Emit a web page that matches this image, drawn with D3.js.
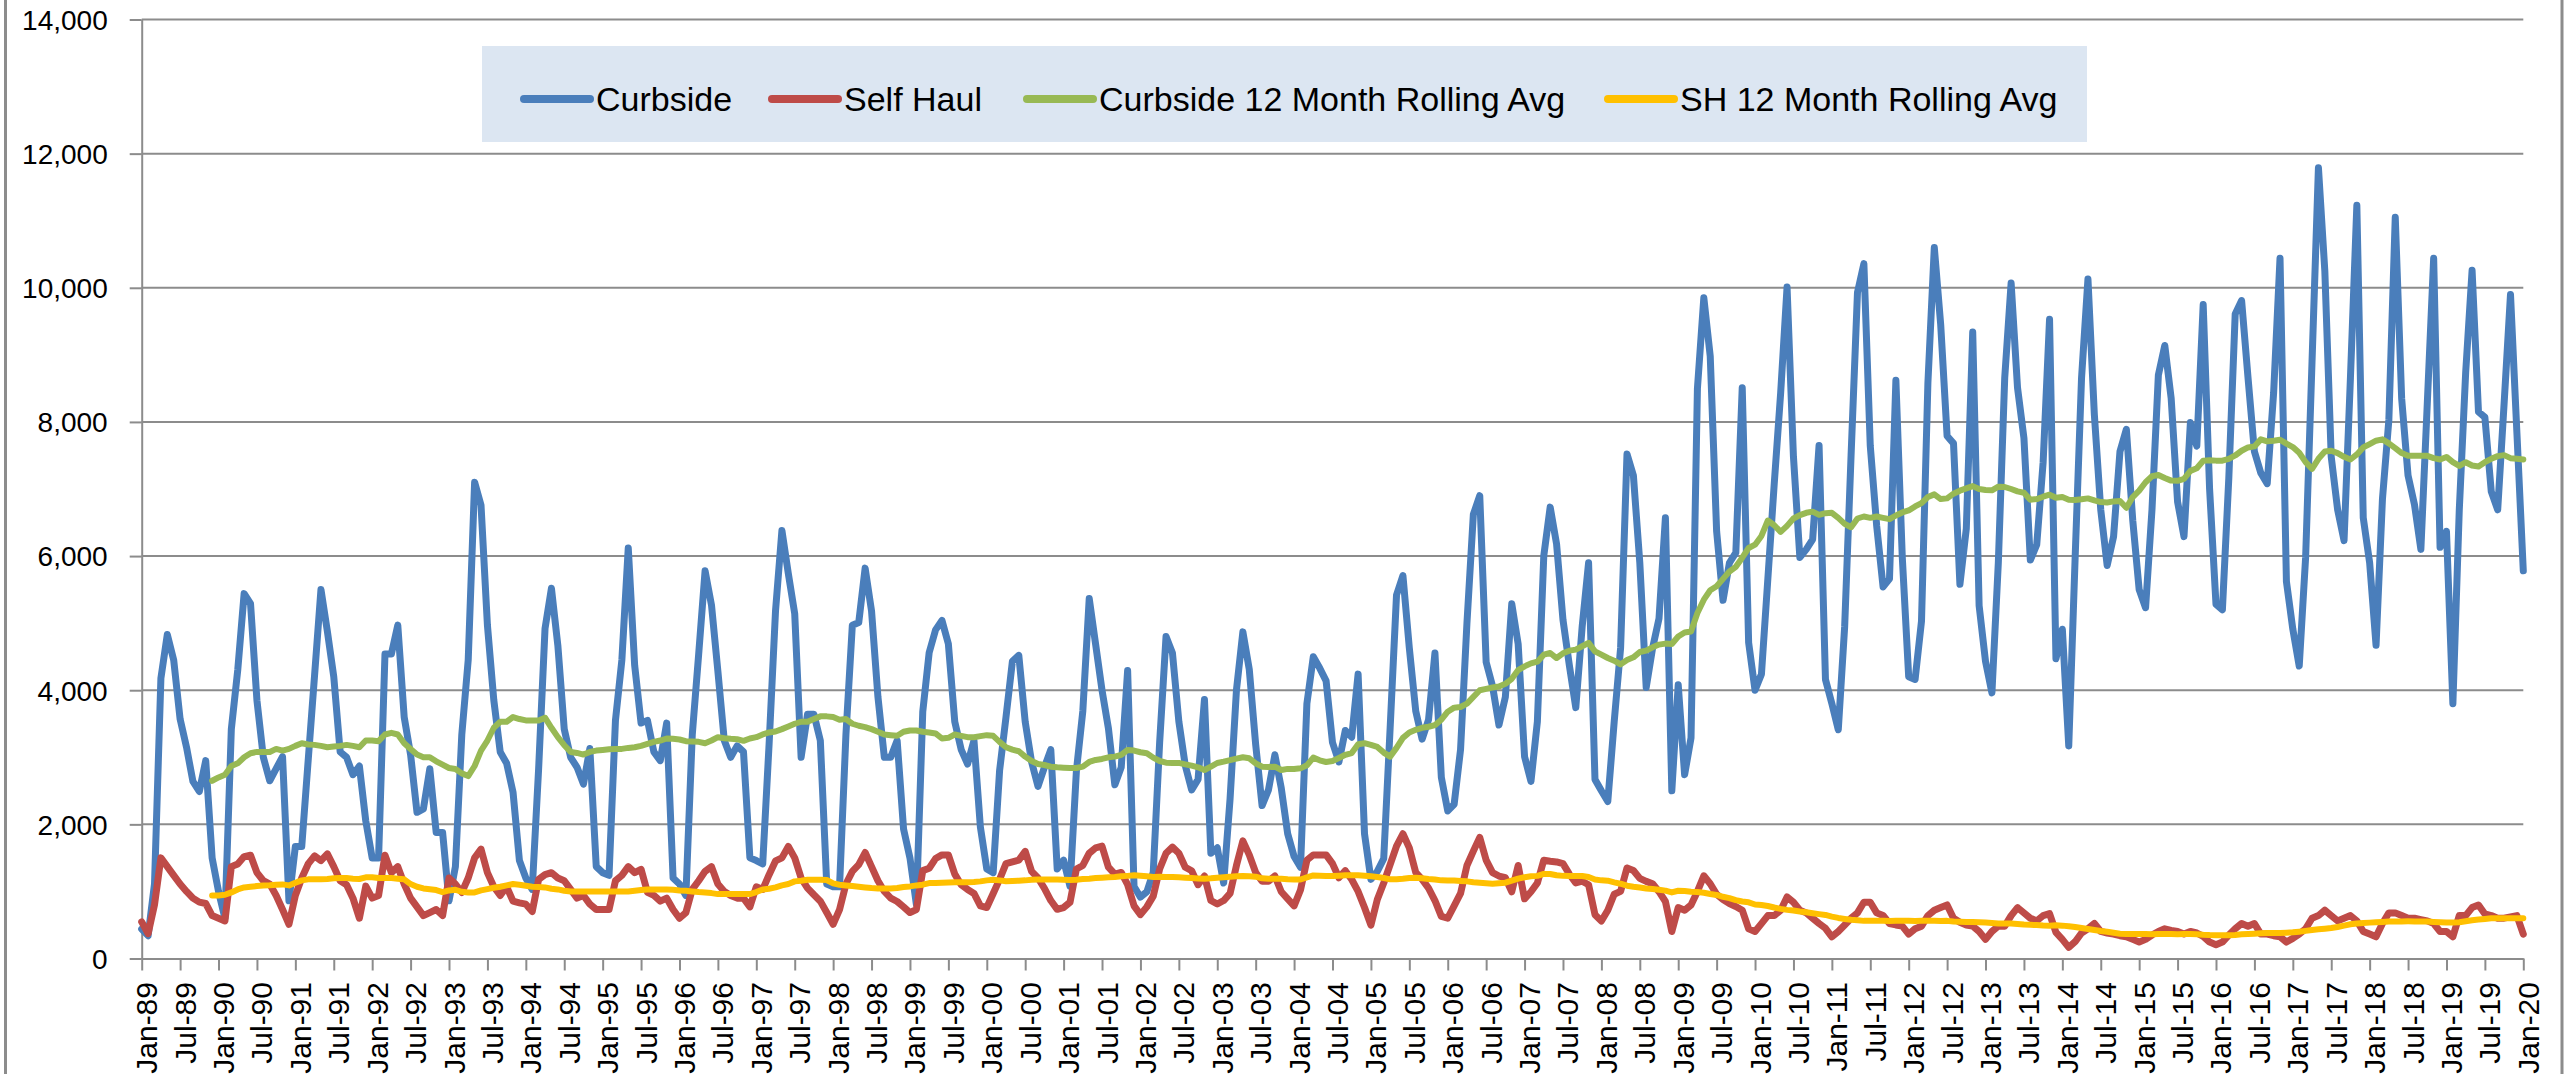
<!DOCTYPE html>
<html>
<head>
<meta charset="utf-8">
<script src="https://d3js.org/d3.v7.min.js"></script>
<style>
  html, body { margin: 0; padding: 0; background: #ffffff; }
  svg { display: block; }
  text { font-family: "Liberation Sans", Arial, sans-serif; fill: #000; }
</style>
</head>
<body>
<svg id="chart" width="2575" height="1074"></svg>
<script>
// ---------------- DATA ----------------
const tickLabels = ["Jan-89","Jul-89","Jan-90","Jul-90","Jan-91","Jul-91","Jan-92","Jul-92","Jan-93","Jul-93",
  "Jan-94","Jul-94","Jan-95","Jul-95","Jan-96","Jul-96","Jan-97","Jul-97","Jan-98","Jul-98","Jan-99","Jul-99",
  "Jan-00","Jul-00","Jan-01","Jul-01","Jan-02","Jul-02","Jan-03","Jul-03","Jan-04","Jul-04","Jan-05","Jul-05",
  "Jan-06","Jul-06","Jan-07","Jul-07","Jan-08","Jul-08","Jan-09","Jul-09","Jan-10","Jul-10","Jan-11","Jul-11",
  "Jan-12","Jul-12","Jan-13","Jul-13","Jan-14","Jul-14","Jan-15","Jul-15","Jan-16","Jul-16","Jan-17","Jul-17",
  "Jan-18","Jul-18","Jan-19","Jul-19","Jan-20"];
const yTicks = [0, 2000, 4000, 6000, 8000, 10000, 12000, 14000];
const seriesNames = ["Curbside", "Self Haul", "Curbside 12 Month Rolling Avg", "SH 12 Month Rolling Avg"];

// monthly values, Jan-89 .. Jan-20 (one row per year)
const curbside = [
  440,340,1110,4180,4830,4450,3570,3150,2640,2490,2950,1500,
  1000,600,3420,4300,5440,5290,3850,3000,2650,2830,3010,860,
  1670,1670,2950,4220,5500,4880,4200,3080,3000,2740,2870,2050,
  1500,1500,4540,4540,4970,3600,3040,2180,2230,2830,1880,1880,
  860,1370,3340,4450,7100,6760,4970,3850,3080,2910,2480,1460,
  1200,1030,2830,4920,5520,4670,3420,3000,2850,2600,3130,1370,
  1280,1240,3550,4450,6120,4370,3510,3550,3080,2950,3510,1200,
  1110,940,3340,4540,5780,5270,4280,3250,3000,3170,3080,1500,
  1460,1410,3200,5180,6380,5740,5140,3000,3640,3640,3250,1110,
  1070,1070,3340,4970,5010,5820,5180,3900,3000,3000,3250,1930,
  1500,810,3680,4560,4900,5040,4690,3530,3115,2900,3250,1960,
  1335,1280,2800,3600,4430,4520,3530,2930,2565,2850,3115,1335,
  1466,1073,2800,3690,5366,4686,4000,3430,2590,2850,4293,1073,
  916,995,1283,3220,4800,4555,3534,2880,2513,2670,3860,1570,
  1650,1125,2380,4005,4870,4310,3190,2280,2513,3037,2540,1860,
  1520,1360,3800,4500,4330,4140,3220,2930,3400,3300,4240,1860,
  1180,1300,1490,3430,5420,5710,4630,3690,3270,3560,4555,2700,
  2200,2300,3115,5000,6620,6900,4420,4060,3480,3900,5290,4690,
  3010,2640,3530,6000,6730,6180,5050,4370,3740,4950,5900,2670,
  2500,2340,3530,4630,7520,7200,5900,4040,4630,5070,6570,2500,
  4080,2740,3290,8500,9850,8980,6370,5340,5900,6050,8510,4710,
  4000,4240,5660,7080,8430,10010,7480,5980,6100,6250,7650,4160,
  3800,3410,4950,7500,9930,10360,7640,6450,5540,5660,8620,5980,
  4200,4160,5030,8580,10600,9450,7790,7680,5580,6410,9340,5260,
  4430,3960,5900,8660,10070,8510,7760,5940,6170,7400,9530,4470,
  4910,3170,5980,8660,10130,8110,6690,5860,6290,7560,7890,6530,
  5500,5230,6690,8700,9140,8350,6810,6290,7990,7640,9750,7000,
  5280,5200,7160,9610,9810,8660,7560,7240,7080,8430,10440,5620,
  4910,4360,5980,8900,11790,10250,7480,6690,6230,8660,11230,6570,
  5900,4670,6850,8030,11050,8350,7200,6770,6100,8270,10440,6130,
  6370,3800,6690,8740,10260,8150,8070,6960,6690,8270,9900,7840,
  5780
];

const selfHaul = [
  545,370,800,1500,1370,1240,1110,1000,900,840,820,640,
  600,560,1370,1410,1520,1540,1280,1160,1110,940,730,510,
  940,1200,1410,1530,1460,1560,1370,1160,1100,900,600,1080,
  900,940,1540,1280,1370,1110,900,770,640,685,730,640,
  1200,1110,985,1200,1500,1630,1280,1070,940,1070,855,830,
  810,700,1180,1250,1280,1200,1160,1030,900,940,810,730,
  730,730,1160,1240,1370,1280,1330,985,940,855,900,730,
  600,685,1030,1160,1300,1370,1110,1000,940,900,900,770,
  1070,1030,1250,1455,1500,1670,1500,1200,1050,950,855,685,
  510,730,1110,1300,1400,1580,1370,1160,1000,900,850,770,
  685,730,1310,1345,1490,1545,1545,1257,1100,1030,970,785,
  760,970,1180,1414,1440,1466,1597,1300,1200,1047,864,733,
  760,838,1335,1387,1570,1650,1675,1361,1257,1283,1100,785,
  654,770,930,1335,1570,1660,1570,1361,1309,1100,1230,864,
  812,864,970,1387,1754,1545,1283,1152,1152,1230,995,890,
  785,1021,1466,1545,1545,1545,1414,1204,1309,1178,1000,760,
  497,880,1126,1400,1675,1860,1650,1283,1180,1050,864,628,
  602,785,970,1387,1600,1806,1466,1280,1230,1204,995,1387,
  890,995,1126,1466,1450,1440,1414,1257,1126,1152,1100,654,
  560,720,957,1000,1350,1312,1194,1150,1115,996,850,403,
  759,720,798,1000,1233,1115,957,880,820,775,720,443,
  403,520,640,640,720,917,838,720,680,600,522,450,
  324,403,500,600,680,838,838,680,640,522,500,482,
  364,443,482,640,720,760,798,601,540,500,482,403,
  285,403,482,482,640,759,680,601,561,640,670,390,
  285,166,250,380,443,522,403,380,364,340,324,285,
  245,285,350,403,443,420,403,364,403,380,330,245,
  206,245,350,443,522,482,522,364,364,340,324,245,
  300,364,443,601,640,720,640,561,601,640,561,403,
  364,324,522,680,680,640,601,601,580,561,522,403,
  403,324,640,640,759,798,664,640,601,601,620,640,
  364
];

// 12-month rolling averages, Dec-89 .. Jan-20
const avgStartIndex = 11;
const curbsideAvg = [
  2650,2700,2740,2870,2910,3000,3060,3080,3080,3080,3125,3100,3125,
  3170,3210,3190,3185,3170,3150,3160,3170,3185,3170,3150,3250,
  3250,3240,3340,3365,3340,3210,3125,3040,3000,3000,2940,2890,
  2840,2825,2760,2720,2870,3100,3250,3440,3530,3530,3600,3570,
  3550,3550,3550,3590,3440,3300,3180,3080,3065,3040,3080,3100,
  3110,3120,3125,3125,3140,3150,3170,3200,3230,3250,3280,3275,
  3265,3240,3235,3230,3210,3250,3300,3285,3275,3270,3245,3280,
  3300,3340,3370,3385,3420,3460,3500,3530,3530,3570,3610,3610,
  3600,3560,3570,3500,3470,3450,3420,3380,3340,3330,3320,3380,
  3400,3400,3380,3370,3355,3280,3290,3340,3320,3300,3300,3315,
  3330,3320,3230,3150,3115,3090,3010,2945,2900,2885,2860,2850,
  2845,2840,2840,2860,2930,2960,2975,3000,3010,3035,3110,3100,
  3075,3060,2995,2945,2920,2916,2916,2895,2875,2850,2810,2860,
  2915,2935,2958,2980,3000,2985,2910,2860,2855,2860,2810,2827,
  2827,2835,2880,2995,2955,2930,2945,2990,3037,3063,3194,3210,
  3185,3155,3070,3010,3140,3290,3370,3410,3440,3455,3480,3560,
  3680,3740,3750,3800,3900,4000,4020,4040,4055,4095,4170,4300,
  4355,4400,4425,4530,4555,4480,4550,4590,4605,4655,4705,4580,
  4530,4480,4440,4385,4450,4490,4570,4590,4640,4680,4695,4690,
  4800,4860,4875,5150,5350,5490,5550,5660,5770,5840,5976,6120,
  6170,6300,6530,6460,6360,6450,6560,6610,6645,6662,6615,6640,
  6645,6570,6480,6430,6560,6590,6570,6590,6570,6550,6605,6650,
  6680,6740,6790,6880,6920,6850,6860,6930,6975,7010,7043,7000,
  6985,6980,7035,7030,7000,6965,6945,6840,6850,6885,6915,6870,
  6880,6840,6835,6846,6860,6830,6805,6800,6815,6822,6720,6880,
  6975,7100,7190,7210,7165,7125,7122,7150,7270,7310,7420,7430,
  7423,7423,7450,7500,7570,7620,7635,7740,7710,7720,7735,7676,
  7625,7540,7400,7300,7450,7560,7570,7535,7480,7440,7515,7620,
  7670,7720,7740,7680,7610,7535,7494,7494,7494,7494,7460,7440,
  7478,7400,7345,7399,7350,7336,7400,7450,7490,7505,7460,7450,
  7440
];

const shAvg = [
  940,940,950,985,1030,1060,1070,1080,1090,1092,1100,1105,1090,
  1130,1165,1180,1180,1180,1185,1195,1200,1200,1190,1185,1210,
  1210,1200,1200,1200,1190,1180,1110,1070,1045,1032,1020,990,
  1015,1025,995,985,985,1015,1035,1055,1070,1090,1110,1100,
  1085,1070,1065,1060,1040,1030,1010,1000,1000,1000,1000,1000,
  1000,1000,1000,1000,1000,1010,1020,1030,1030,1030,1030,1025,
  1015,1010,1000,990,985,975,960,960,960,960,960,960,
  990,1030,1040,1060,1090,1110,1150,1160,1175,1175,1175,1170,
  1120,1100,1090,1080,1070,1060,1050,1045,1045,1045,1050,1065,
  1075,1090,1100,1125,1125,1128,1132,1136,1136,1138,1141,1150,
  1165,1175,1165,1152,1155,1160,1165,1175,1178,1178,1178,1178,
  1175,1170,1175,1185,1190,1200,1205,1210,1215,1225,1232,1240,
  1235,1225,1215,1218,1215,1215,1210,1205,1200,1194,1190,1195,
  1204,1210,1218,1225,1230,1225,1220,1195,1188,1188,1188,1180,
  1178,1178,1210,1238,1235,1230,1230,1235,1240,1241,1241,1235,
  1225,1215,1200,1180,1180,1188,1200,1204,1196,1185,1178,1165,
  1162,1162,1155,1150,1136,1128,1122,1115,1122,1130,1160,1190,
  1212,1225,1232,1260,1260,1241,1232,1230,1230,1230,1215,1178,
  1165,1160,1135,1115,1085,1070,1059,1045,1036,1025,1012,985,
  1010,1005,996,990,980,962,948,920,900,870,850,838,
  805,798,783,760,740,725,715,700,690,675,662,650,
  625,605,590,577,570,561,561,562,561,560,561,562,
  561,560,561,562,561,560,561,552,548,545,545,540,
  537,530,522,522,522,515,506,502,498,492,490,495,
  490,482,470,455,440,425,410,400,385,370,364,364,
  365,364,363,364,365,364,363,364,364,363,355,350,
  348,348,348,352,360,364,370,375,380,380,380,385,
  390,400,412,425,435,445,455,470,490,510,522,528,
  535,540,545,550,553,553,554,553,553,552,545,540,
  537,537,540,555,569,580,590,600,601,601,601,601,
  601
];

// ---------------- DRAW ----------------
const colors = ["#4a7ebb", "#be4b48", "#98b954", "#ffc000"];
const widths = [7, 7, 6, 6];
const gridColor = "#8c8c8c";
const svg = d3.select("#chart");

const lastMonth = (tickLabels.length - 1) * 6;
const x = d3.scaleLinear().domain([0, lastMonth]).range([141.7, 2523.3]);
const y = d3.scaleLinear().domain([0, 14000]).range([958.5, 19.5]);

// chart area border (left / right)
svg.append("line").attr("x1", 5.5).attr("x2", 5.5).attr("y1", 0).attr("y2", 1074)
  .attr("stroke", gridColor).attr("stroke-width", 3);
svg.append("line").attr("x1", 2562).attr("x2", 2562).attr("y1", 0).attr("y2", 1074)
  .attr("stroke", gridColor).attr("stroke-width", 3);

// horizontal gridlines
svg.append("g").selectAll("line").data(yTicks.filter(v => v > 0)).join("line")
  .attr("x1", x(0)).attr("x2", x(lastMonth))
  .attr("y1", d => y(d)).attr("y2", d => y(d))
  .attr("stroke", gridColor).attr("stroke-width", 2);

// y axis
const gy = svg.append("g").attr("transform", `translate(${x(0)},0)`)
  .call(d3.axisLeft(y).tickValues(yTicks).tickFormat(d3.format(",")).tickSize(12).tickSizeOuter(0).tickPadding(22));
gy.attr("color", gridColor);
gy.selectAll("path, line").attr("stroke-width", 2);
gy.selectAll("text").style("font-size", "28px").attr("fill", "#000").attr("dy", "0.35em");

// x axis
const gx = svg.append("g").attr("transform", `translate(0,${y(0)})`)
  .call(d3.axisBottom(x).tickValues(d3.range(0, lastMonth + 1, 6))
    .tickFormat((d, i) => tickLabels[i]).tickSize(12).tickSizeOuter(0));
gx.attr("color", gridColor);
gx.selectAll("path, line").attr("stroke-width", 2);
gx.selectAll("text")
  .attr("transform", "rotate(-90)")
  .attr("x", -23.5).attr("y", 0).attr("dy", "0.5em")
  .attr("text-anchor", "end")
  .attr("fill", "#000")
  .style("font-size", "30px");

// series
const seriesData = [
  { values: curbside, offset: 0 },
  { values: selfHaul, offset: 0 },
  { values: curbsideAvg, offset: avgStartIndex },
  { values: shAvg, offset: avgStartIndex }
];
seriesData.forEach((s, k) => {
  const line = d3.line().x((d, i) => x(i + s.offset)).y(d => y(d));
  svg.append("path").datum(s.values)
    .attr("d", line)
    .attr("fill", "none")
    .attr("stroke", colors[k])
    .attr("stroke-width", widths[k])
    .attr("stroke-linejoin", "round")
    .attr("stroke-linecap", "round");
});

// legend
const legend = svg.append("g");
legend.append("rect").attr("x", 482).attr("y", 46).attr("width", 1605).attr("height", 96)
  .attr("fill", "#dce6f2");
const legendX = [524, 772, 1027, 1608];
const legendY = 99;
seriesNames.forEach((name, k) => {
  legend.append("line")
    .attr("x1", legendX[k]).attr("x2", legendX[k] + 66)
    .attr("y1", legendY).attr("y2", legendY)
    .attr("stroke", colors[k]).attr("stroke-width", 8).attr("stroke-linecap", "round");
  legend.append("text")
    .attr("x", legendX[k] + 72).attr("y", legendY).attr("dy", "0.36em")
    .style("font-size", "34px")
    .text(name);
});
</script>
</body>
</html>
